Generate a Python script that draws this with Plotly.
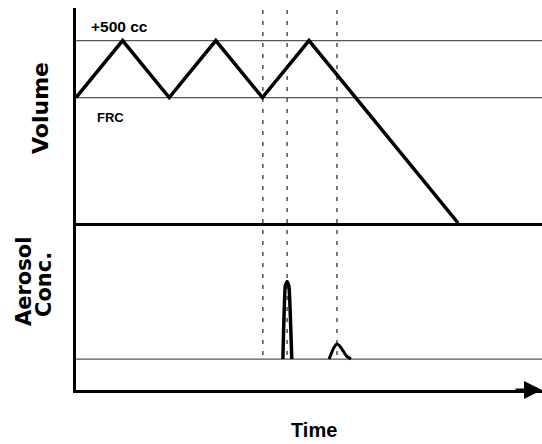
import plotly.graph_objects as go

# ---- data ----
breath_time = [0, 1, 2, 3, 4, 5, 8.2]          # time units
breath_volume = [0, 500, 0, 500, 0, 500, -1100]  # cc relative to FRC
ref_levels = [500, 0]                           # +500 cc and FRC
marker_times = [4.01, 4.53, 5.60]               # dashed event markers
bolus1_time = [4.44, 4.49, 4.53, 4.57, 4.63]
bolus1_conc = [0, 0.92, 0.98, 0.92, 0]
bolus2_time = [5.43, 5.53, 5.60, 5.68, 5.80, 5.90]
bolus2_conc = [0, 0.14, 0.19, 0.15, 0.04, 0]
t_max = 10.0

W, H = 542, 444
ML, MR, MT, MB = 76, 0, 8, 54
PW, PH = W - ML - MR, H - MT - MB


def px(x):
    return (x - ML) / PW


def py(y):
    return (H - MB - y) / PH


split = py(223)

fig = go.Figure()
line_col = "#000000"
thin_col = "#555555"

# reference lines in volume panel
for lv in ref_levels:
    fig.add_trace(go.Scatter(x=[0, t_max], y=[lv, lv], mode="lines",
                             line=dict(color=thin_col, width=1.2),
                             xaxis="x", yaxis="y", hoverinfo="skip"))
fig.add_trace(go.Scatter(x=breath_time, y=breath_volume, mode="lines",
                         line=dict(color=line_col, width=3.5),
                         xaxis="x", yaxis="y"))

# aerosol baseline
fig.add_trace(go.Scatter(x=[0, t_max], y=[0, 0], mode="lines",
                         line=dict(color=thin_col, width=1.2),
                         xaxis="x2", yaxis="y2", hoverinfo="skip"))
fig.add_trace(go.Scatter(x=bolus1_time, y=bolus1_conc, mode="lines",
                         line=dict(color=line_col, width=3.5, shape="spline", smoothing=0.3),
                         xaxis="x2", yaxis="y2"))
fig.add_trace(go.Scatter(x=bolus2_time, y=bolus2_conc, mode="lines",
                         line=dict(color=line_col, width=3, shape="spline", smoothing=0.4),
                         xaxis="x2", yaxis="y2"))

shapes = []
for t in marker_times:
    shapes.append(dict(type="line", xref="x", yref="paper", x0=t, x1=t,
                       y0=py(355), y1=1.0,
                       line=dict(color="#333333", width=1.3, dash="4px,7px"),
                       layer="below"))

bold = "Liberation Sans"
annotations = [
    dict(text="<b>+500 cc</b>", x=px(89), y=py(27), xref="paper", yref="paper",
         xanchor="left", yanchor="middle", showarrow=False,
         font=dict(family=bold, size=15.5, color="black")),
    dict(text="<b>FRC</b>", x=px(95), y=py(117), xref="paper", yref="paper",
         xanchor="left", yanchor="middle", showarrow=False,
         font=dict(family=bold, size=13, color="black")),
    dict(text="<b>Volume</b>", x=px(40), y=py(108), xref="paper", yref="paper",
         xanchor="center", yanchor="middle", showarrow=False, textangle=-90,
         font=dict(family="DejaVu Sans", size=22, color="black")),
    dict(text="<b>Aerosol</b>", x=px(24), y=py(282), xref="paper", yref="paper",
         xanchor="center", yanchor="middle", showarrow=False, textangle=-90,
         font=dict(family="DejaVu Sans", size=21, color="black")),
    dict(text="<b>Conc.</b>", x=px(44), y=py(285), xref="paper", yref="paper",
         xanchor="center", yanchor="middle", showarrow=False, textangle=-90,
         font=dict(family="DejaVu Sans", size=21, color="black")),
    dict(text="<b>Time</b>", x=px(314), y=py(430), xref="paper", yref="paper",
         xanchor="center", yanchor="middle", showarrow=False,
         font=dict(family=bold, size=20, color="black")),
    # arrow head at the end of time axis
    dict(text="", x=t_max, y=-0.392, xref="x2", yref="y2",
         ax=t_max - 0.6, ay=-0.392, axref="x2", ayref="y2",
         showarrow=True, arrowhead=2, arrowsize=1.2, arrowwidth=3,
         arrowcolor="black"),
]

fig.update_layout(
    width=W, height=H,
    margin=dict(l=ML, r=MR, t=MT, b=MB),
    paper_bgcolor="white", plot_bgcolor="white",
    showlegend=False,
    shapes=shapes,
    annotations=annotations,
    xaxis=dict(domain=[0, 1], range=[0, t_max], anchor="y",
               showline=True, linewidth=3, linecolor="black",
               showgrid=False, zeroline=False, showticklabels=False, ticks=""),
    yaxis=dict(domain=[split, 1], range=[-1100, 786], anchor="x",
               showline=True, linewidth=3, linecolor="black",
               showgrid=False, zeroline=False, showticklabels=False, ticks=""),
    xaxis2=dict(domain=[0, 1], range=[0, t_max], anchor="y2", matches="x",
                showline=True, linewidth=3, linecolor="black",
                showgrid=False, zeroline=False, showticklabels=False, ticks=""),
    yaxis2=dict(domain=[0, split], range=[-0.392, 1.722], anchor="x2",
                showline=True, linewidth=3, linecolor="black",
                showgrid=False, zeroline=False, showticklabels=False, ticks=""),
)

fig.write_html("out.html")
